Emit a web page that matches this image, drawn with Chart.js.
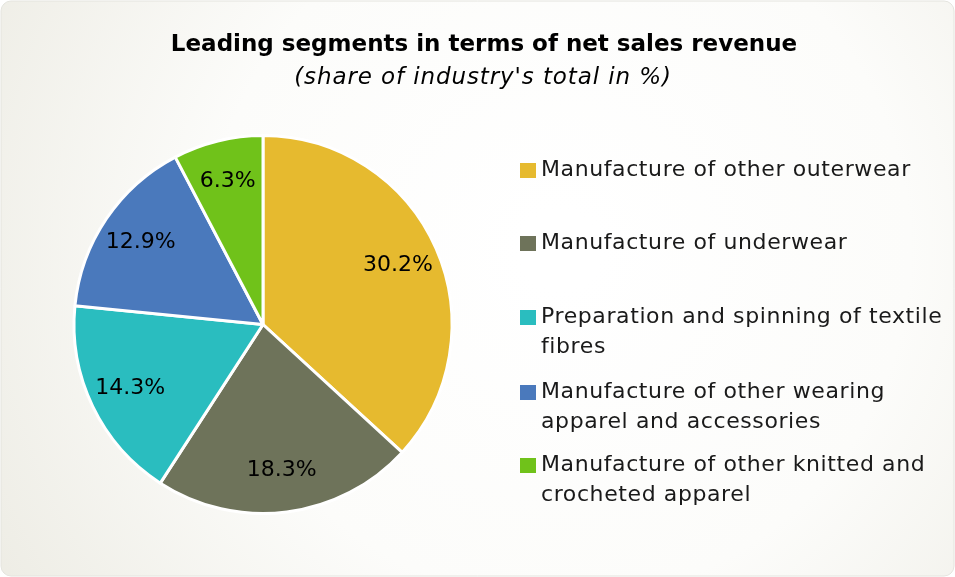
<!DOCTYPE html>
<html>
<head>
<meta charset="utf-8">
<script src="https://cdn.jsdelivr.net/npm/chart.js@4"></script>
<style>
  html, body { margin: 0; padding: 0; background: #ffffff; }
  #wrap { width: 955px; height: 577px; }
</style>
</head>
<body>
<div id="wrap"><canvas id="segments" width="955" height="577"></canvas></div>
<script>
const segments = [
    "Manufacture of other outerwear",
    "Manufacture of underwear",
    "Preparation and spinning of textile fibres",
    "Manufacture of other wearing apparel and accessories",
    "Manufacture of other knitted and crocheted apparel",
];
// legend lines as wrapped in the original
const legendLines = [
    ["Manufacture of other outerwear"],
    ["Manufacture of underwear"],
    ["Preparation and spinning of textile", "fibres"],
    ["Manufacture of other wearing", "apparel and accessories"],
    ["Manufacture of other knitted and", "crocheted apparel"],
];
const shares = [30.2, 18.3, 14.3, 12.9, 6.3];
const colors = ["#e6ba2f", "#6e735a", "#2abdbf", "#4a79bc", "#70c21a"];

const FONT = "'DejaVu Sans', sans-serif";

const backdrop = {
    id: "backdrop",
    beforeDraw(chart) {
        const { ctx, width, height } = chart;
        ctx.save();
        const g = ctx.createRadialGradient(560, 250, 40, 560, 250, 660);
        g.addColorStop(0, "#ffffff");
        g.addColorStop(0.5, "#fcfcfa");
        g.addColorStop(1, "#edece4");
        ctx.fillStyle = g;
        ctx.beginPath();
        ctx.roundRect(1, 1, width - 2, height - 2, 10);
        ctx.fill();
        ctx.strokeStyle = "#e4e4de";
        ctx.lineWidth = 1;
        ctx.stroke();
        ctx.restore();
    },
};

const extras = {
    id: "extras",
    afterDraw(chart) {
        const { ctx } = chart;
        ctx.save();
        ctx.fillStyle = "#000000";
        ctx.textAlign = "center";
        ctx.textBaseline = "middle";
        ctx.font = "bold 23px " + FONT;
        ctx.fillText("Leading segments in terms of net sales revenue", 484, 45);
        ctx.font = "italic 23px " + FONT;
        ctx.letterSpacing = "0.9px";
        ctx.fillText("(share of industry's total in %)", 483, 78);

        // value labels inside the slices
        const meta = chart.getDatasetMeta(0);
        ctx.font = "22px " + FONT;
        ctx.letterSpacing = "0px";
        meta.data.forEach((arc, i) => {
            const p = arc.getProps(["x", "y", "startAngle", "endAngle", "outerRadius"], true);
            const mid = (p.startAngle + p.endAngle) / 2;
            const r = p.outerRadius * 0.78;
            ctx.fillText(shares[i].toFixed(1) + "%", p.x + Math.cos(mid) * r, p.y + Math.sin(mid) * r);
        });

        // legend
        const itemY = [170, 243, 317, 392, 465];
        ctx.textAlign = "left";
        ctx.font = "22px " + FONT;
        ctx.letterSpacing = "0.6px";
        legendLines.forEach((lines, i) => {
            ctx.fillStyle = colors[i];
            ctx.fillRect(520, itemY[i] - 7, 16, 15);
            ctx.fillStyle = "#1a1a1a";
            lines.forEach((t, j) => ctx.fillText(t, 541, itemY[i] + j * 30));
        });
        ctx.restore();
    },
};

new Chart(document.getElementById("segments"), {
    type: "pie",
    data: {
        labels: segments,
        datasets: [
            {
                data: shares,
                backgroundColor: colors,
                borderColor: "#ffffff",
                borderWidth: 3,
            },
        ],
    },
    options: {
        responsive: false,
        animation: false,
        layout: {
            padding: { left: 72, right: 501, top: 134, bottom: 62 },
        },
        plugins: {
            legend: { display: false },
            tooltip: { enabled: false },
        },
    },
    plugins: [backdrop, extras],
});
</script>
</body>
</html>
